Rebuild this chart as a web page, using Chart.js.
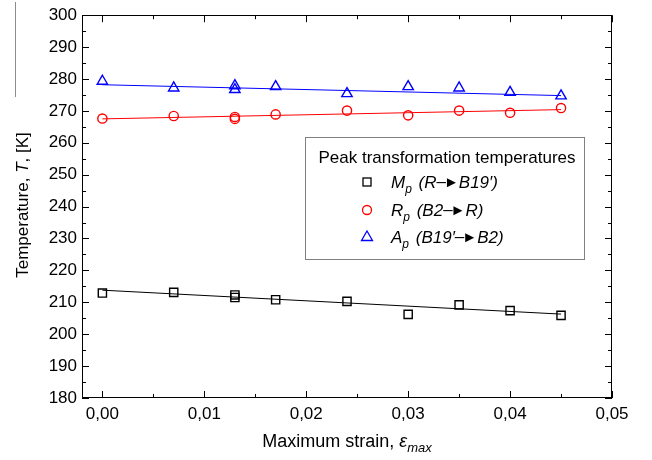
<!DOCTYPE html>
<html><head><meta charset="utf-8">
<script src="https://cdn.jsdelivr.net/npm/chart.js@4/dist/chart.umd.min.js"></script>
<style>html,body{margin:0;padding:0;background:#fff}</style>
</head><body>
<canvas id="c" width="652" height="460"></canvas>
<script>
// ---- data ----
const strain = [0, 0.007, 0.013, 0.013, 0.017, 0.024, 0.030, 0.035, 0.040, 0.045];
const Mp = [212.9, 213.1, 212.3, 211.5, 210.8, 210.3, 206.2, 209.2, 207.4, 205.9];
const Rp = [267.6, 268.4, 268.1, 267.5, 268.9, 270.1, 268.6, 270.1, 269.4, 270.9];
const Ap = [279.3, 277.2, 277.9, 276.7, 277.6, 275.4, 277.6, 277.2, 275.8, 274.7];
const fitStrain = [0, 0.045];
const MpFit = [213.8, 206.3];
const RpFit = [267.5, 270.4];
const ApFit = [278.2, 274.8];
const xTicks = [0, 0.01, 0.02, 0.03, 0.04, 0.05];
const xTickLabels = ['0,00', '0,01', '0,02', '0,03', '0,04', '0,05'];
const xMinor = [0.005, 0.015, 0.025, 0.035, 0.045];
const yTicks = [180, 190, 200, 210, 220, 230, 240, 250, 260, 270, 280, 290, 300];
const yMinor = [185, 195, 205, 215, 225, 235, 245, 255, 265, 275, 285, 295];
const seriesNames = ['Mp', 'Rp', 'Ap'];

const FONT = 'Arial, "Liberation Sans", sans-serif';
const pts = (xs, ys) => xs.map((x, i) => ({x: x, y: ys[i]}));

function runsWidth(ctx, runs) {
  let w = 0;
  for (const r of runs) { ctx.font = r.font; w += ctx.measureText(r.t).width + (r.gap || 0); }
  return w;
}
function drawRuns(ctx, x, y, runs, align) {
  let cx = x;
  if (align === 'center') cx = x - runsWidth(ctx, runs) / 2;
  ctx.textAlign = 'left';
  ctx.textBaseline = 'alphabetic';
  for (const r of runs) {
    ctx.font = r.font;
    ctx.fillStyle = r.color || '#000';
    ctx.fillText(r.t, cx, y + (r.dy || 0));
    cx += ctx.measureText(r.t).width + (r.gap || 0);
  }
}

const LN = '17px ' + FONT, LI = 'italic 17px ' + FONT, LS = 'italic 12px ' + FONT;
const TN = '18px ' + FONT, TI = 'italic 18px ' + FONT, TS = 'italic 13px ' + FONT;
const YN = '17px ' + FONT, YI = 'italic 17px ' + FONT;

const decor = {
  id: 'decor',
  afterDraw(chart) {
    const ctx = chart.ctx, a = chart.chartArea;
    const xs = chart.scales.x, ys = chart.scales.y;
    ctx.save();
    // frame
    ctx.strokeStyle = '#000'; ctx.lineWidth = 1;
    ctx.strokeRect(Math.round(a.left) + 0.5, Math.round(a.top) + 0.5, Math.round(a.right - a.left) - 1, Math.round(a.bottom - a.top) - 1);
    // inward ticks on all four sides
    ctx.beginPath();
    const tx = (v, len) => { const p = Math.round(xs.getPixelForValue(v)) + 0.5;
      ctx.moveTo(p, a.bottom); ctx.lineTo(p, a.bottom - len);
      ctx.moveTo(p, a.top); ctx.lineTo(p, a.top + len); };
    const ty = (v, len) => { const p = Math.round(ys.getPixelForValue(v)) + 0.5;
      ctx.moveTo(a.left, p); ctx.lineTo(a.left + len, p);
      ctx.moveTo(a.right, p); ctx.lineTo(a.right - len, p); };
    xTicks.forEach(v => tx(v, 7)); xMinor.forEach(v => tx(v, 4));
    yTicks.forEach(v => ty(v, 7)); yMinor.forEach(v => ty(v, 4));
    ctx.stroke();

    // thin grey line at the far left (present in the reference)
    ctx.strokeStyle = '#8c8c8c';
    ctx.beginPath(); ctx.moveTo(15.5, 2); ctx.lineTo(15.5, 97); ctx.stroke();

    // legend
    ctx.strokeStyle = '#808080';
    ctx.strokeRect(305.5, 137.5, 279, 122);
    ctx.fillStyle = '#000';
    ctx.font = LN; ctx.textAlign = 'center'; ctx.textBaseline = 'alphabetic';
    ctx.fillText('Peak transformation temperatures', 447, 163);
    const mx = 367;
    ctx.lineWidth = 1.3;
    ctx.strokeStyle = '#000'; ctx.strokeRect(mx - 4, 182 - 4, 8, 8);
    ctx.strokeStyle = '#ff0000'; ctx.beginPath(); ctx.arc(mx, 210, 4.5, 0, Math.PI * 2); ctx.stroke();
    ctx.strokeStyle = '#0000ff'; ctx.beginPath();
    ctx.moveTo(mx, 231); ctx.lineTo(mx + 5.5, 240.5); ctx.lineTo(mx - 5.5, 240.5); ctx.closePath(); ctx.stroke();
    const sub = {t: 'p', font: LS, dy: 5, gap: 2};
    const dash = {t: '\u2013', font: '17px ' + FONT, dy: -1, gap: -2};
    const head = {t: '\u25BA', font: '15px ' + FONT, dy: -1};
    drawRuns(ctx, 391, 188, [{t: 'M', font: LI}, sub, {t: ' (R', font: LI}, dash, head, {t: 'B19\u2032)', font: LI}]);
    drawRuns(ctx, 391, 216, [{t: 'R', font: LI}, sub, {t: ' (B2', font: LI}, dash, head, {t: 'R)', font: LI}]);
    drawRuns(ctx, 391, 243, [{t: 'A', font: LI}, sub, {t: ' (B19\u2032', font: LI}, dash, head, {t: 'B2)', font: LI}]);

    // axis titles
    drawRuns(ctx, (a.left + a.right) / 2, 447, [{t: 'Maximum strain, ', font: TN}, {t: '\u03B5', font: TI}, {t: 'max', font: TS, dy: 5}], 'center');
    ctx.translate(28, 205);
    ctx.rotate(-Math.PI / 2);
    drawRuns(ctx, 0, 0, [{t: 'Temperature, ', font: YN}, {t: 'T', font: YI}, {t: ', [K]', font: YN}], 'center');
    ctx.restore();
  }
};

new Chart(document.getElementById('c'), {
  type: 'scatter',
  data: {
    datasets: [
      {label: seriesNames[0] + ' fit', type: 'line', data: pts(fitStrain, MpFit), borderColor: '#000', borderWidth: 1, pointRadius: 0, fill: false},
      {label: seriesNames[1] + ' fit', type: 'line', data: pts(fitStrain, RpFit), borderColor: '#ff0000', borderWidth: 1, pointRadius: 0, fill: false},
      {label: seriesNames[2] + ' fit', type: 'line', data: pts(fitStrain, ApFit), borderColor: '#0000ff', borderWidth: 1, pointRadius: 0, fill: false},
      {label: seriesNames[0], data: pts(strain, Mp), pointStyle: 'rect', pointRadius: 5.8, borderColor: '#000', backgroundColor: 'rgba(0,0,0,0)', borderWidth: 1.4},
      {label: seriesNames[1], data: pts(strain, Rp), pointStyle: 'circle', pointRadius: 4.6, borderColor: '#ff0000', backgroundColor: 'rgba(0,0,0,0)', borderWidth: 1.4},
      {label: seriesNames[2], data: pts(strain, Ap), pointStyle: 'triangle', pointRadius: 6, borderColor: '#0000ff', backgroundColor: 'rgba(0,0,0,0)', borderWidth: 1.4}
    ]
  },
  options: {
    responsive: false, animation: false, devicePixelRatio: 1,
    layout: {padding: {left: 0, right: 40, top: 10, bottom: 0}},
    plugins: {legend: {display: false}, tooltip: {enabled: false}},
    scales: {
      x: {
        type: 'linear', min: -0.002, max: 0.05,
        grid: {display: false, drawTicks: false}, border: {display: false},
        afterBuildTicks: s => { s.ticks = xTicks.map(v => ({value: v})); },
        afterFit: s => { s.height = 62; },
        ticks: {padding: 6, color: '#000', font: {family: FONT, size: 17},
          callback: v => { const i = xTicks.indexOf(v); return i >= 0 ? xTickLabels[i] : ''; }}
      },
      y: {
        type: 'linear', min: 180, max: 300,
        grid: {display: false, drawTicks: false}, border: {display: false},
        afterBuildTicks: s => { s.ticks = yTicks.map(v => ({value: v})); },
        afterFit: s => { s.width = 82; },
        ticks: {padding: 5, color: '#000', font: {family: FONT, size: 17}}
      }
    }
  },
  plugins: [decor]
});
</script>
</body></html>
